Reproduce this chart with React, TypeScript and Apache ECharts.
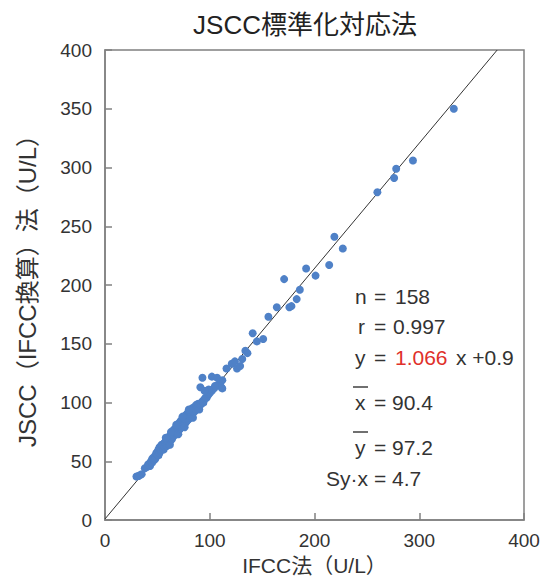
import React, { useEffect, useRef } from "react";
import * as echarts from "echarts";

const title = "JSCC標準化対応法";
const xAxisName = "IFCC法（U/L）";
const yAxisName = "JSCC（IFCC換算）法（U/L）";
const xTicks = [0, 100, 200, 300, 400];
const yTicks = [0, 50, 100, 150, 200, 250, 300, 350, 400];

const slope = 1.066;
const intercept = 0.9;

const clusterPoints: [number, number][] = [
  [30, 37], [33, 38], [35, 39], [32, 37.5], [38, 44], [40, 45], [41, 47], [42, 48], [43, 46], [44, 50],
  [45, 52], [45, 49], [46, 53], [47, 51], [48, 55], [48, 52], [49, 57], [50, 56], [50, 58], [51, 55],
  [51, 60], [52, 57], [52, 62], [53, 59], [53, 61], [54, 60], [54, 64], [55, 61], [55, 63], [56, 60],
  [56, 65], [57, 62], [57, 66], [58, 64], [58, 67], [59, 63], [59, 68], [60, 65], [60, 69], [61, 66],
  [61, 70], [62, 67], [62, 72], [62, 64], [63, 68], [63, 73], [64, 69], [64, 74], [65, 71], [65, 76],
  [66, 72], [66, 77], [67, 73], [67, 78], [68, 74], [68, 79], [69, 75], [69, 80], [70, 76], [70, 82],
  [70, 73], [71, 77], [71, 81], [72, 78], [72, 84], [73, 79], [73, 85], [74, 80], [74, 86], [75, 81],
  [75, 87], [76, 82], [76, 88], [76, 79], [77, 83], [77, 89], [78, 84], [78, 90], [79, 85], [79, 91],
  [80, 86], [80, 92], [81, 87], [81, 93], [82, 88], [82, 94], [83, 89], [83, 95], [84, 91], [84, 87],
  [85, 92], [85, 96], [86, 93], [87, 94], [87, 98], [88, 95], [89, 96], [89, 99], [90, 97], [90, 94],
  [91, 98], [92, 99], [93, 101], [94, 100], [95, 103], [96, 104], [97, 104], [98, 106], [99, 107], [100, 108],
  [102, 110], [104, 112], [106, 114], [108, 115], [110, 117], [112, 119],
  [58, 70], [63, 75], [68, 81], [74, 88], [80, 94],
];

const spreadPoints: [number, number][] = [
  [91, 113], [93, 121], [102, 122], [107, 121], [111, 113], [112, 112], [105, 114], [99, 111], [95, 110],
  [116, 129], [121, 133], [124, 135], [126, 129], [129, 131], [131, 137], [134, 144], [136, 142],
  [141, 159], [145, 152], [151, 154], [156, 173], [164, 181], [171, 205], [176, 181], [178, 182],
  [183, 188], [186, 196], [192, 214], [201, 208], [214, 217], [219, 241], [227, 231], [260, 279],
  [276, 291], [278, 299], [294, 306], [333, 350],
];

const statLabels = ["n", "r", "y", "x", "y", "Sy·x"];
const statValues = ["158", "0.997", "1.066", "90.4", "97.2", "4.7"];
const slopeSuffix = "x +0.9";

const FONT = "'Liberation Sans', 'Noto Sans CJK JP', sans-serif";
const STAT_SIZE = 21;

export default function App() {
  const ref = useRef<HTMLDivElement>(null);
  useEffect(() => {
    document.body.style.margin = "0";
    if (!ref.current) return;
    const chart = echarts.init(ref.current, undefined, { renderer: "svg" });
    const xEnd = (400 - intercept) / slope;
    const txt = (x: number, y: number, text: string, fill = "#333", align = "left") => ({
      type: "text",
      x,
      y,
      style: { text, fill, font: `${STAT_SIZE}px ${FONT}`, textVerticalAlign: "middle", textAlign: align },
    });
    const rowY = [296, 326, 357, 402, 447, 478];
    const labelX = [355, 358, 355, 355, 355, 368];
    const labelAlign = ["left", "left", "left", "left", "left", "right"];
    const valueX = [395, 393, 395, 392, 392, 392];
    const graphics: any[] = [];
    rowY.forEach((y, i) => {
      graphics.push(txt(labelX[i], y, statLabels[i], "#333", labelAlign[i]));
      graphics.push(txt(374, y, "="));
      graphics.push(txt(valueX[i], y, statValues[i], i === 2 ? "#e0302a" : "#333"));
    });
    graphics.push(txt(456, rowY[2], slopeSuffix));
    graphics.push({ type: "line", shape: { x1: 353, y1: 387, x2: 368, y2: 387 }, style: { stroke: "#333", lineWidth: 1.4 } });
    graphics.push({ type: "line", shape: { x1: 353, y1: 432, x2: 368, y2: 432 }, style: { stroke: "#333", lineWidth: 1.4 } });

    chart.setOption({
      animation: false,
      backgroundColor: "#fff",
      textStyle: { fontFamily: FONT },
      title: {
        text: title,
        left: 300,
        textAlign: "center",
        top: 7,
        textStyle: { fontSize: 26, fontWeight: "normal", color: "#222", fontFamily: FONT },
      },
      grid: {
        left: 105,
        right: 25,
        top: 50,
        bottom: 67,
        show: true,
        borderColor: "#808080",
        borderWidth: 1.5,
      },
      xAxis: {
        type: "value",
        min: xTicks[0],
        max: xTicks[xTicks.length - 1],
        interval: 100,
        name: xAxisName,
        nameLocation: "middle",
        nameGap: 35,
        nameTextStyle: { fontSize: 21, color: "#333", fontFamily: FONT },
        axisLine: { show: true, lineStyle: { color: "#808080", width: 1.5 } },
        axisTick: { show: true, inside: true, length: 7, lineStyle: { color: "#808080", width: 1.5 } },
        axisLabel: { fontSize: 19, color: "#333", margin: 11, fontFamily: FONT },
        splitLine: { show: false },
      },
      yAxis: {
        type: "value",
        min: yTicks[0],
        max: yTicks[yTicks.length - 1],
        interval: 50,
        name: yAxisName,
        nameLocation: "middle",
        nameGap: 66,
        nameRotate: 90,
        nameTextStyle: { fontSize: 24, color: "#333", fontFamily: FONT },
        axisLine: { show: true, lineStyle: { color: "#808080", width: 1.5 } },
        axisTick: { show: true, inside: true, length: 7, lineStyle: { color: "#808080", width: 1.5 } },
        axisLabel: { fontSize: 19, color: "#333", margin: 13, fontFamily: FONT },
        splitLine: { show: false },
      },
      series: [
        {
          type: "line",
          data: [[0, intercept], [xEnd, 400]],
          symbol: "none",
          lineStyle: { color: "#333", width: 1 },
          z: 1,
        },
        {
          type: "scatter",
          data: [...clusterPoints, ...spreadPoints],
          symbolSize: 8,
          itemStyle: { color: "#4f81c7", opacity: 1 },
          z: 2,
        },
      ],
      graphic: graphics,
    });
    return () => chart.dispose();
  }, []);
  return <div ref={ref} style={{ width: 549, height: 587 }} />;
}
